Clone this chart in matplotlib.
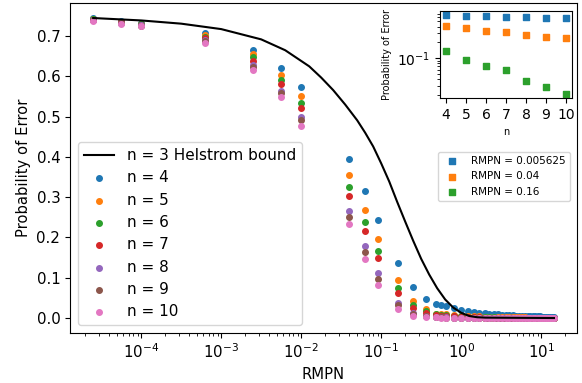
import matplotlib
matplotlib.use("Agg")
import matplotlib.pyplot as plt

# RMPN values where the simulations were run
rmpn = [2.5e-5, 5.625e-5, 1e-4, 6.25e-4, 2.5e-3, 5.625e-3, 0.01, 0.04, 0.0625, 0.09,
        0.16, 0.25, 0.36, 0.49, 0.5625, 0.64, 0.81, 1.0, 1.21, 1.44, 1.69, 1.96,
        2.25, 2.56, 2.89, 3.24, 3.61, 4.0, 4.41, 4.84, 5.29, 5.76, 6.25, 6.76,
        7.29, 7.84, 8.41, 9.0, 9.61, 10.24, 10.89, 11.56, 12.25, 12.96, 13.69, 14.44]

# probability of error for n = 4 .. 10
err_n4 = [0.745, 0.738, 0.732, 0.709, 0.665, 0.620, 0.574, 0.396, 0.315, 0.244,
          0.137, 0.076, 0.048, 0.036, 0.032, 0.029, 0.025, 0.020, 0.017, 0.015,
          0.013, 0.012, 0.011, 0.010, 0.009, 0.008, 0.0075, 0.007, 0.0065, 0.006,
          0.0057, 0.0054, 0.0051, 0.0048, 0.0046, 0.0044, 0.0042, 0.004, 0.0038,
          0.0036, 0.0035, 0.0034, 0.0033, 0.0032, 0.0031, 0.003]
err_n5 = [0.743, 0.736, 0.731, 0.703, 0.655, 0.603, 0.551, 0.355, 0.268, 0.196,
          0.095, 0.042, 0.023, 0.011, 0.010, 0.009, 0.007, 0.006, 0.005, 0.004,
          0.004, 0.003, 0.003, 0.003, 0.002, 0.002, 0.002, 0.002, 0.002, 0.002,
          0.002, 0.002, 0.002, 0.001, 0.001, 0.001, 0.001, 0.001, 0.001, 0.001,
          0.001, 0.001, 0.001, 0.001, 0.001, 0.001]
err_n6 = [0.742, 0.735, 0.729, 0.699, 0.647, 0.590, 0.535, 0.326, 0.238, 0.167,
          0.075, 0.032, 0.017, 0.009, 0.008, 0.007, 0.005, 0.004, 0.003, 0.003,
          0.002, 0.002, 0.002, 0.002, 0.001, 0.001, 0.001, 0.001, 0.001, 0.001,
          0.001, 0.001, 0.001, 0.001, 0.001, 0.001, 0.001, 0.001, 0.001, 0.001,
          0.001, 0.001, 0.001, 0.001, 0.001, 0.001]
err_n7 = [0.741, 0.734, 0.728, 0.695, 0.639, 0.580, 0.521, 0.304, 0.217, 0.149,
          0.062, 0.026, 0.013, 0.008, 0.006, 0.005, 0.004, 0.003, 0.002, 0.002,
          0.002, 0.001, 0.001, 0.001, 0.001, 0.001, 0.001, 0.001, 0.001, 0.001,
          0.001, 0.001, 0.001, 0.001, 0.001, 0.001, 0.001, 0.001, 0.001, 0.001,
          0.001, 0.001, 0.001, 0.001, 0.001, 0.001]
err_n8 = [0.740, 0.733, 0.727, 0.690, 0.629, 0.563, 0.500, 0.267, 0.178, 0.111,
          0.038, 0.012, 0.005, 0.003, 0.002, 0.002, 0.001, 0.001, 0.001, 0.001,
          0.001, 0.001, 0.001, 0.001, 0.001, 0.001, 0.0, 0.0, 0.0, 0.0,
          0.0, 0.0, 0.0, 0.0, 0.0, 0.0, 0.0, 0.0, 0.0, 0.0,
          0.0, 0.0, 0.0, 0.0, 0.0, 0.0]
err_n9 = [0.739, 0.732, 0.726, 0.688, 0.624, 0.558, 0.491, 0.251, 0.163, 0.098,
          0.032, 0.009, 0.004, 0.002, 0.002, 0.001, 0.001, 0.001, 0.001, 0.001,
          0.0, 0.0, 0.0, 0.0, 0.0, 0.0, 0.0, 0.0, 0.0, 0.0,
          0.0, 0.0, 0.0, 0.0, 0.0, 0.0, 0.0, 0.0, 0.0, 0.0,
          0.0, 0.0, 0.0, 0.0, 0.0, 0.0]
err_n10 = [0.738, 0.731, 0.725, 0.684, 0.617, 0.548, 0.478, 0.233, 0.147, 0.083,
           0.022, 0.005, 0.003, 0.002, 0.001, 0.001, 0.001, 0.0, 0.0, 0.0,
           0.0, 0.0, 0.0, 0.0, 0.0, 0.0, 0.0, 0.0, 0.0, 0.0,
           0.0, 0.0, 0.0, 0.0, 0.0, 0.0, 0.0, 0.0, 0.0, 0.0,
           0.0, 0.0, 0.0, 0.0, 0.0, 0.0]
series = [err_n4, err_n5, err_n6, err_n7, err_n8, err_n9, err_n10]
n_values = [4, 5, 6, 7, 8, 9, 10]

# n = 3 Helstrom bound
helstrom_x = [2.51e-5, 1e-4, 3.16e-4, 1e-3, 3.16e-3, 6.31e-3, 0.0126, 0.0178,
              0.0251, 0.0355, 0.0501, 0.0631, 0.0794, 0.1, 0.126, 0.158, 0.2,
              0.251, 0.316, 0.398, 0.501, 0.631, 0.794, 1.0, 1.26, 1.58, 2.0, 14.44]
helstrom_y = [0.745, 0.739, 0.731, 0.7175, 0.692, 0.665, 0.625, 0.597,
              0.566, 0.53, 0.491, 0.46, 0.426, 0.384, 0.339, 0.289, 0.239,
              0.192, 0.147, 0.108, 0.074, 0.046, 0.026, 0.013, 0.005, 0.002, 0.001, 0.0]

# inset: error vs n at three fixed RMPN values
inset_labels = ["RMPN = 0.005625", "RMPN = 0.04", "RMPN = 0.16"]
inset_blue = [0.665, 0.647, 0.628, 0.62, 0.601, 0.594, 0.576]
inset_orange = [0.412, 0.368, 0.332, 0.309, 0.275, 0.252, 0.238]
inset_green = [0.139, 0.093, 0.072, 0.060, 0.037, 0.028, 0.0206]

fig = plt.figure(figsize=(5.82, 3.83), dpi=100)
ax = fig.add_axes([0.1203, 0.1305, 0.8711, 0.8616])

ax.plot(helstrom_x, helstrom_y, color="black", linewidth=1.5, label="n = 3 Helstrom bound")
for n, err in zip(n_values, series):
    ax.scatter(rmpn, err, s=16, label=f"n = {n}")
ax.set_xscale("log")
ax.tick_params(labelsize=10.8)
ax.set_xlabel("RMPN", fontsize=10.6)
ax.set_ylabel("Probability of Error", fontsize=10.6)
ax.legend(loc="lower left", fontsize=11, labelspacing=0.48)

ins = fig.add_axes([0.756, 0.744, 0.2268, 0.2272])
for vals, lab in zip([inset_blue, inset_orange, inset_green], inset_labels):
    ins.scatter(n_values, vals, marker="s", s=18, label=lab)
ins.set_yscale("log")
ins.set_xticks(n_values)
ins.tick_params(labelsize=10)
ins.set_xlabel("n", fontsize=7)
ins.set_ylabel("Probability of Error", fontsize=7)
ins.legend(loc="upper right", bbox_to_anchor=(0.979, 0.603),
           bbox_transform=fig.transFigure, borderaxespad=0, fontsize=7.5)

fig.savefig("out.png", dpi=100)
